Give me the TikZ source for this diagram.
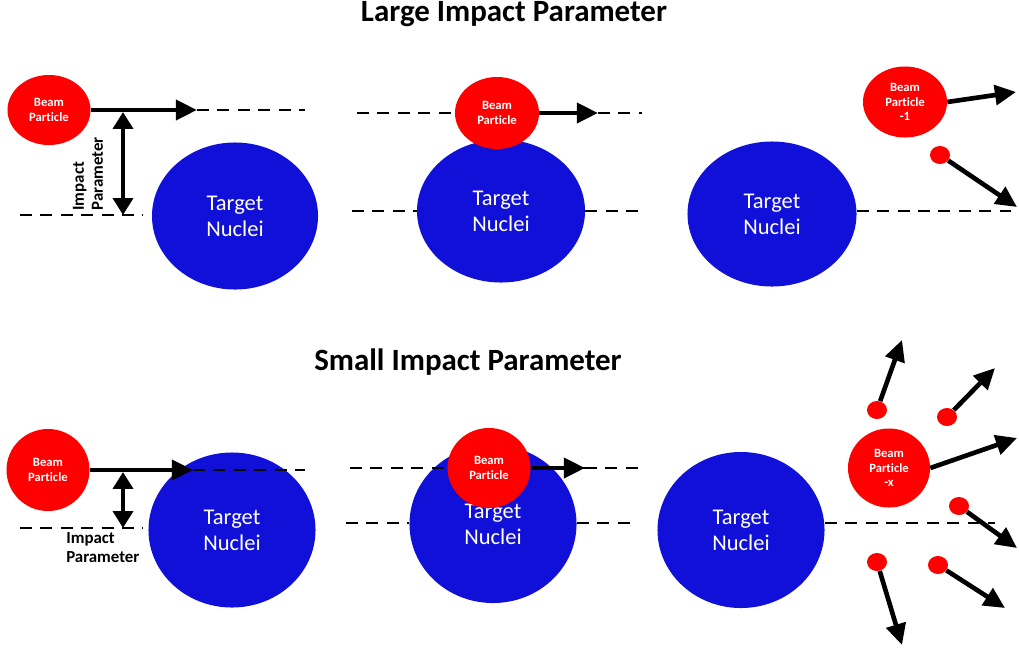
\documentclass[tikz,border=0pt]{standalone}
\usepackage{fontspec}
\setmainfont[Ligatures=NoCommon]{Carlito}
\usetikzlibrary{arrows.meta,shapes.geometric}

\definecolor{nucblue}{RGB}{16,16,216}

\begin{document}
\begin{tikzpicture}[x=0.025cm,y=-0.025cm,
  nucleus/.style={ellipse,fill=nucblue,text=white,inner sep=0pt,align=center,font=\fontsize{16}{18.5}\selectfont},
  beam/.style={ellipse,fill=red,text=white,inner sep=0pt,align=center,font=\bfseries\fontsize{9}{10.5}\selectfont},
  frag/.style={ellipse,fill=red,inner sep=0pt,minimum width=0.5cm,minimum height=0.45cm},
  title/.style={font=\bfseries\fontsize{22}{26}\selectfont},
  gaplabel/.style={align=left,inner sep=0pt,font=\bfseries\fontsize{12}{13.5}\selectfont},
  track/.style={line width=3.3pt,-{Triangle[length=15pt,width=14pt]}},
  gap/.style={line width=3.3pt,{Triangle[length=12pt,width=14pt]}-{Triangle[length=12pt,width=14pt]}},
  trajectory/.style={line width=1.9pt,dash pattern=on 8.5pt off 6pt}]

\useasboundingbox (0,0) rectangle (1019,653);

\node[title](L) at (514,14) {Large Impact Parameter};
\node[title](S) at (468,362) {Small Impact Parameter};

% top row
\node[nucleus,minimum width=4.15cm,minimum height=3.675cm](T1) at (235,216) {Target\\Nuclei};
\node[beam,minimum width=2.075cm,minimum height=1.75cm](B1) at (49,110) {Beam\\Particle};
\node[gaplabel,rotate=90](I1) at (88,174) {Impact\\Parameter};
\coordinate (a1) at (197,110);
\coordinate (e1) at (305,110);
\coordinate (i1t) at (123,112);
\coordinate (i1b) at (123,215);
\coordinate (l1a) at (20,215);
\coordinate (l1b) at (143,215);

\node[nucleus,minimum width=4.2cm,minimum height=3.575cm](T2) at (501,211) {Target\\Nuclei};
\node[beam,minimum width=2.1cm,minimum height=1.8cm](B2) at (497,113) {Beam\\Particle};
\coordinate (s2) at (357,113);
\coordinate (a2) at (598,113);
\coordinate (e2) at (642,113);
\coordinate (l2a) at (352,211);
\coordinate (l2b) at (642,211);

\node[nucleus,minimum width=4.225cm,minimum height=3.625cm](T3) at (772,214) {Target\\Nuclei};
\node[beam,minimum width=2.1cm,minimum height=1.775cm](B3) at (905,102) {Beam\\Particle\\-1};
\node[frag](f1) at (940,155) {};
\coordinate (e3) at (1019,211);
\coordinate (o3) at (1016,92);
\coordinate (o4) at (1017,207);

% bottom row
\node[nucleus,minimum width=4.175cm,minimum height=3.875cm](T4) at (232,530) {Target\\Nuclei};
\node[beam,minimum width=2.075cm,minimum height=2.05cm](B4) at (48,470) {Beam\\Particle};
\node[gaplabel,anchor=west](I4) at (66,548) {Impact\\Parameter};
\coordinate (a4) at (193,470);
\coordinate (e4) at (305,470);
\coordinate (i4t) at (123,472);
\coordinate (i4b) at (123,528);
\coordinate (l4a) at (20,528);
\coordinate (l4b) at (143,528);

\node[nucleus,minimum width=4.175cm,minimum height=3.95cm](T5) at (493,524) {Target\\Nuclei};
\coordinate (s5) at (350,468);
\coordinate (a5) at (585,468);
\coordinate (e5) at (640,468);
\coordinate (l5a) at (346,523);
\coordinate (l5b) at (632,523);

\node[nucleus,minimum width=4.175cm,minimum height=3.9cm](T6) at (741,530) {Target\\Nuclei};
\coordinate (e6) at (995,523);

\path
(s5) edge[trajectory] (a5)
(a5) edge[trajectory] (e5);

\node[beam,minimum width=2.075cm,minimum height=2cm](B5) at (489,468) {Beam\\Particle};
\node[beam,minimum width=2.05cm,minimum height=1.975cm](B6) at (889,468) {Beam\\Particle\\-x};
\node[frag](f2) at (877,410) {};
\node[frag](f3) at (947,417) {};
\node[frag](f4) at (959,506) {};
\node[frag](f5) at (877,562) {};
\node[frag](f6) at (938,565) {};
\coordinate (o6) at (1017,438);
\coordinate (o2) at (902,340);
\coordinate (o7) at (995,368);
\coordinate (o8) at (1017,548);
\coordinate (o9) at (902,645);
\coordinate (o10) at (1005,608);

\path
(a1) edge[trajectory] (e1)
(l1a) edge[trajectory] (l1b)
(B1.east) edge[track] (a1)
(i1t) edge[gap] (i1b)
(s2) edge[trajectory] (B2.west)
(a2) edge[trajectory] (e2)
(l2a) edge[trajectory] (T2.west)
(T2.east) edge[trajectory] (l2b)
(B2.east) edge[track] (a2)
(e3 -| T3.east) edge[trajectory] (e3)
(B3.east) edge[track] (o3)
(f1) edge[track] (o4)
(a4) edge[trajectory] (e4)
(l4a) edge[trajectory] (l4b)
(B4.east) edge[track] (a4)
(i4t) edge[gap] (i4b)
(l5a) edge[trajectory] (l5a -| T5.west)
(l5b -| T5.east) edge[trajectory] (l5b)
(B5.east) edge[track] (a5)
(e6 -| T6.east) edge[trajectory] (e6)
(B6.east) edge[track] (o6)
(f2) edge[track] (o2)
(f3) edge[track] (o7)
(f4) edge[track] (o8)
(f5) edge[track] (o9)
(f6) edge[track] (o10);
\end{tikzpicture}
\end{document}
